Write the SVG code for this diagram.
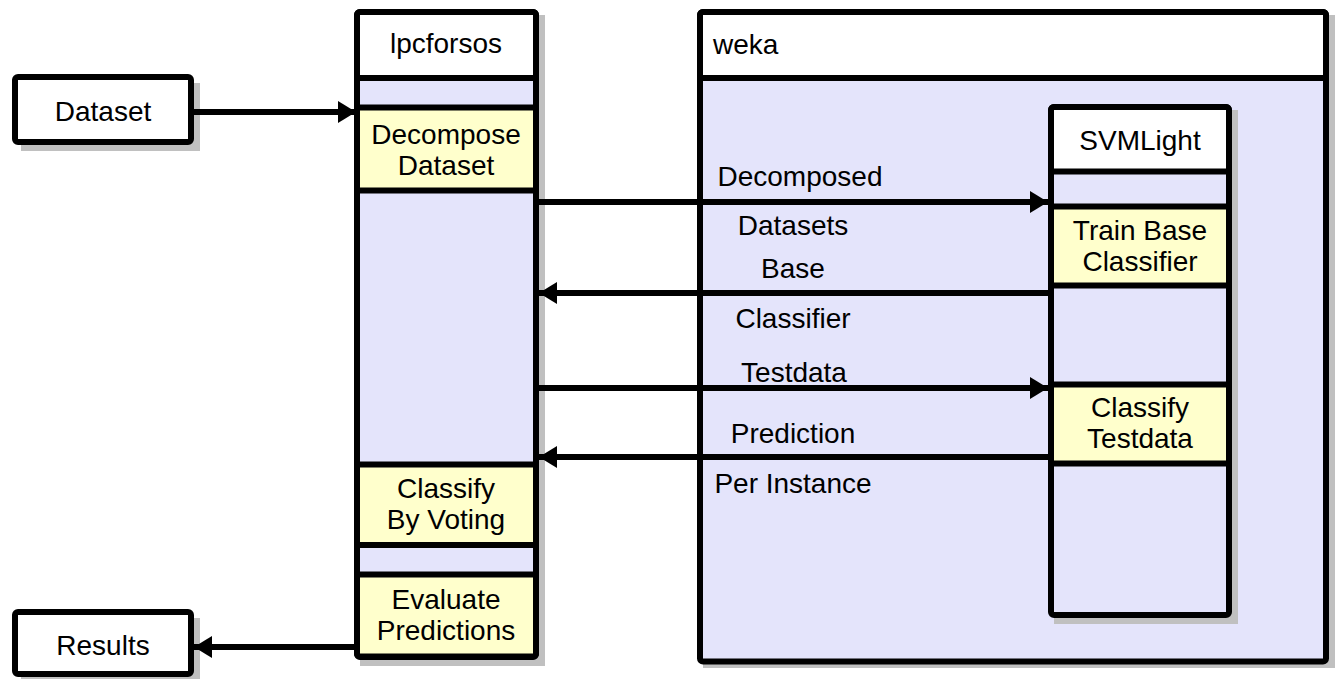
<svg xmlns="http://www.w3.org/2000/svg" width="1338" height="679" viewBox="0 0 1338 679">
<defs>
<style>
.t{font-family:"Liberation Sans",Arial,sans-serif;font-size:28px;fill:#000}
.c{text-anchor:middle}
.box{stroke:#000;stroke-width:6;stroke-linejoin:round}
.sh{fill:#c0c0c0}
.w{fill:#ffffff}
.lav{fill:#e4e4fb}
.yel{fill:#ffffcc}
.cn{stroke:#000;stroke-width:6;fill:none}
</style>
<marker id="ah" markerUnits="userSpaceOnUse" markerWidth="20" markerHeight="24" refX="18" refY="11" orient="auto">
<path d="M0,0 L18,11 L0,22 Z" fill="#000"/>
</marker>
</defs>
<rect width="1338" height="679" fill="#ffffff"/>

<g id="dataset">
<rect class="sh" x="21" y="83" width="179" height="68"/>
<rect class="box w" x="15" y="77" width="176" height="65" rx="3"/>
<text class="t c" x="103" y="121">Dataset</text>
</g>

<g id="results">
<rect class="sh" x="21" y="618" width="179" height="68"/>
<rect class="box w" x="15" y="612" width="176" height="62" rx="3"/>
<text class="t c" x="103" y="655">Results</text>
</g>

<g id="lpcforsos">
<rect class="sh" x="360" y="15" width="185" height="651"/>
<rect class="box lav" x="357" y="12" width="179" height="645" rx="3"/>
<rect class="box w" x="357" y="12" width="179" height="66" rx="3"/>
<text class="t c" x="446" y="53">lpcforsos</text>
</g>

<g id="decompose">
<rect class="box yel" x="357" y="107.5" width="179" height="83"/>
<text class="t c" x="446" y="144">Decompose</text>
<text class="t c" x="446" y="175">Dataset</text>
</g>

<g id="voting">
<rect class="box yel" x="357" y="464.5" width="179" height="80.5"/>
<text class="t c" x="446" y="498">Classify</text>
<text class="t c" x="446" y="529">By Voting</text>
</g>

<g id="evaluate">
<rect class="box yel" x="357" y="574.5" width="179" height="82" rx="3"/>
<text class="t c" x="446" y="609">Evaluate</text>
<text class="t c" x="446" y="640">Predictions</text>
</g>

<g id="weka">
<rect class="sh" x="703" y="15" width="632" height="653"/>
<rect class="box lav" x="700" y="12" width="626" height="649.5" rx="3"/>
<rect class="box w" x="700" y="12" width="626" height="66" rx="3"/>
<text class="t" x="713" y="54">weka</text>
</g>

<g id="svmlight">
<rect class="sh" x="1054" y="110" width="184" height="514"/>
<rect class="box lav" x="1051" y="107" width="178" height="508" rx="3"/>
<rect class="box w" x="1051" y="107" width="178" height="64.5" rx="3"/>
<text class="t c" x="1140" y="150">SVMLight</text>
</g>

<g id="train">
<rect class="box yel" x="1051" y="206.5" width="178" height="79"/>
<text class="t c" x="1140" y="240">Train Base</text>
<text class="t c" x="1140" y="271">Classifier</text>
</g>

<g id="classifytest">
<rect class="box yel" x="1051" y="384.5" width="178" height="79"/>
<text class="t c" x="1140" y="417">Classify</text>
<text class="t c" x="1140" y="448">Testdata</text>
</g>

<g id="connectors">
<line class="cn" x1="194" y1="112" x2="356" y2="112" marker-end="url(#ah)"/>
<line class="cn" x1="539" y1="202" x2="1048" y2="202" marker-end="url(#ah)"/>
<line class="cn" x1="1048" y1="293" x2="539" y2="293" marker-end="url(#ah)"/>
<line class="cn" x1="539" y1="388" x2="1048" y2="388" marker-end="url(#ah)"/>
<line class="cn" x1="1048" y1="457" x2="539" y2="457" marker-end="url(#ah)"/>
<line class="cn" x1="354" y1="647" x2="194" y2="647" marker-end="url(#ah)"/>
<text class="t c" x="800" y="186">Decomposed</text>
<text class="t c" x="793" y="235">Datasets</text>
<text class="t c" x="793" y="278">Base</text>
<text class="t c" x="793" y="328">Classifier</text>
<text class="t c" x="794" y="382">Testdata</text>
<text class="t c" x="793" y="443">Prediction</text>
<text class="t c" x="793" y="493">Per Instance</text>
</g>
</svg>
